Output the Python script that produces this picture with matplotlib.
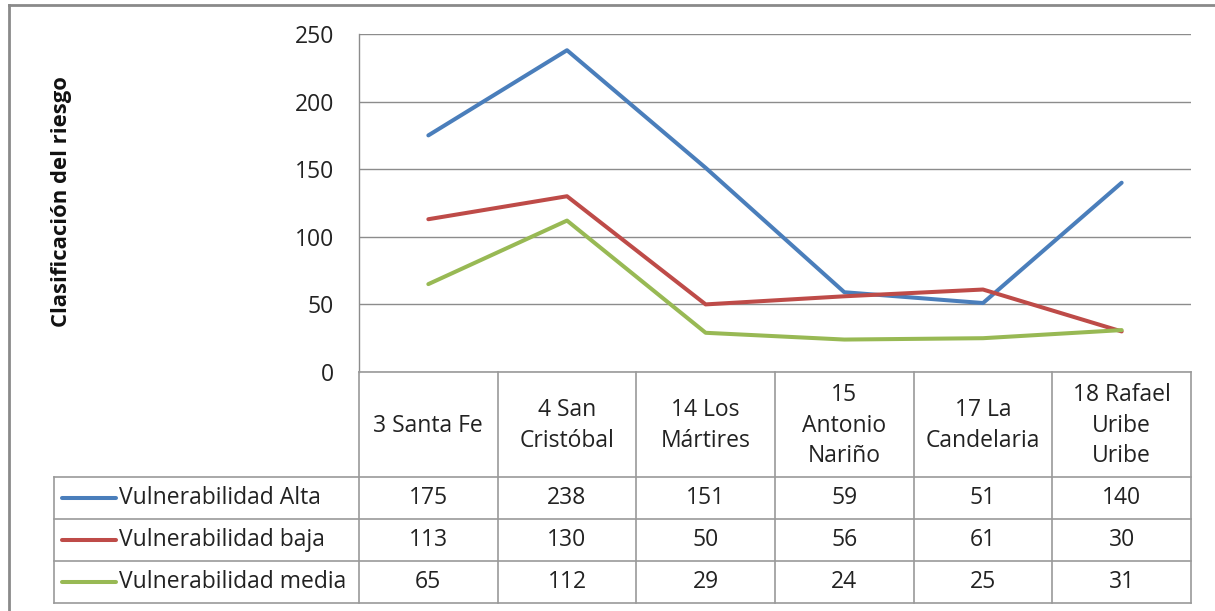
import matplotlib
matplotlib.use("Agg")
import matplotlib.pyplot as plt
import numpy as np
from matplotlib.lines import Line2D

plt.rcParams['font.family'] = ['Open Sans', 'DejaVu Sans']

categories = ["3 Santa Fe", "4 San\nCristóbal", "14 Los\nMártires", "15\nAntonio\nNariño",
              "17 La\nCandelaria", "18 Rafael\nUribe\nUribe"]
series_names = ["Vulnerabilidad Alta", "Vulnerabilidad baja", "Vulnerabilidad media"]
alta = [175, 238, 151, 59, 51, 140]
baja = [113, 130, 50, 56, 61, 30]
media = [65, 112, 29, 24, 25, 31]
series = [alta, baja, media]
colors = ["#4A7EBB", "#BE4B48", "#98B954"]
yticks = [0, 50, 100, 150, 200, 250]

FS = 16.5
W, H = 1215, 611
fig = plt.figure(figsize=(W / 100, H / 100), dpi=100)

def fx(px):
    return px / W

def fy(py):
    return 1 - py / H

# plot area in pixels
L, R, T, B = 359, 1191, 34, 372
ax = fig.add_axes([fx(L), fy(B), fx(R) - fx(L), fy(T) - fy(B)])
x = np.arange(len(categories))
for s, c in zip(series, colors):
    ax.plot(x, s, color=c, lw=2.9, solid_capstyle='round', solid_joinstyle='round', zorder=3)
ax.set_xlim(-0.5, len(categories) - 0.5)
ax.set_ylim(0, 250)
ax.set_yticks(yticks)
ax.set_xticks([])
ax.grid(axis='y', color='#8c8c8c', lw=1)
ax.set_axisbelow(True)
for sp in ['top', 'right', 'bottom']:
    ax.spines[sp].set_visible(False)
ax.spines['left'].set_color('#8c8c8c')
ax.spines['left'].set_linewidth(1)
ax.tick_params(axis='y', length=0, pad=18, labelsize=FS, labelcolor='#222222')
ax.set_facecolor('none')

fig.text(fx(62), fy(202), "Clasificación del riesgo", rotation=90, ha='center', va='center',
         fontsize=15.8, fontweight='bold', color='#111111')

# data table
TB = 603
tab = fig.add_axes([fx(L), fy(TB), fx(R) - fx(L), fy(B) - fy(TB)])
tab.set_xlim(-0.5, len(categories) - 0.5)
tab.set_ylim(TB - B, 0)
tab.axis('off')
colw = (R - L) / len(categories)
legL = -0.5 - (L - 54) / colw
hdr = 477 - B
rowh = 42
gc = '#9a9a9a'
kw = dict(color=gc, lw=1.2, clip_on=False)
# horizontal lines
tab.plot([-0.5, len(categories) - 0.5], [0, 0], **kw)
for k in range(len(series) + 1):
    yy = hdr + k * rowh
    tab.plot([legL, len(categories) - 0.5], [yy, yy], **kw)
# vertical lines
for i in range(len(categories) + 1):
    tab.plot([i - 0.5, i - 0.5], [0, hdr + len(series) * rowh], **kw)
tab.plot([legL, legL], [hdr, hdr + len(series) * rowh], **kw)

for i, cat in enumerate(categories):
    tab.text(i, hdr / 2 + 1, cat, ha='center', va='center', fontsize=FS,
             color='#222222', linespacing=1.38)
for k, (name, s, c) in enumerate(zip(series_names, series, colors)):
    yc = hdr + k * rowh + rowh / 2
    x0 = legL + (62 - 54) / colw
    x1 = legL + (116 - 54) / colw
    tab.plot([x0, x1], [yc, yc], color=c, lw=2.9, solid_capstyle='round', clip_on=False)
    tab.text(legL + (119 - 54) / colw, yc, name, ha='left', va='center', fontsize=FS,
             color='#222222')
    for i, v in enumerate(s):
        tab.text(i, yc, str(v), ha='center', va='center', fontsize=FS, color='#222222')

# outer frame (top and left visible)
fig.add_artist(Line2D([fx(9), 1], [fy(5), fy(5)], color='#8a8a8a', lw=2, transform=fig.transFigure))
fig.add_artist(Line2D([fx(9), fx(9)], [fy(5), 0], color='#8a8a8a', lw=2, transform=fig.transFigure))

fig.savefig("out.png", dpi=100)
